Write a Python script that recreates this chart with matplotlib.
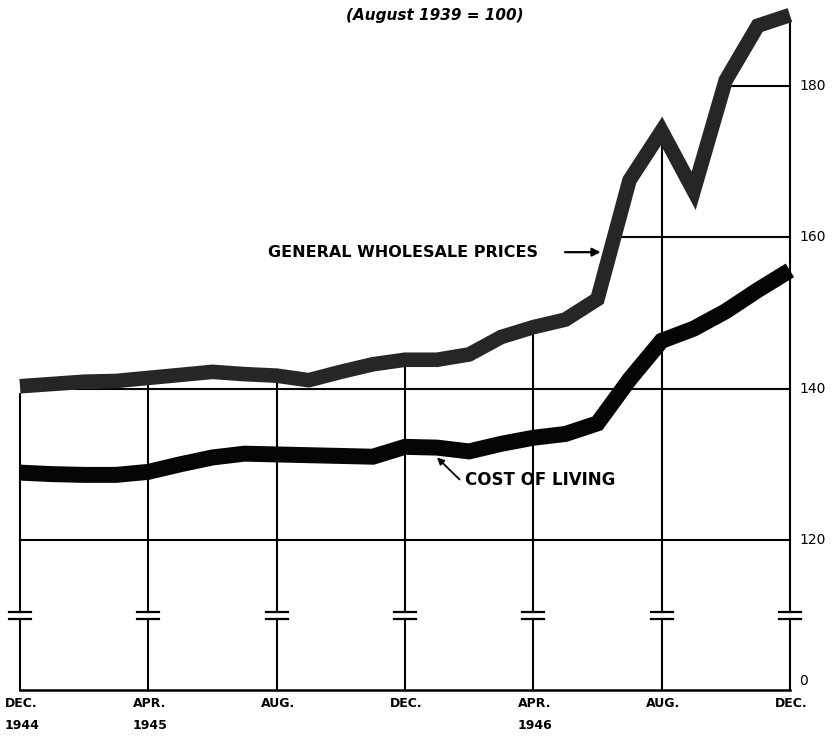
import matplotlib
matplotlib.use("Agg")
import matplotlib.pyplot as plt
from matplotlib.patches import Polygon

# ---- data (monthly, Dec 1944 .. Dec 1946; August 1939 = 100) ----
months = list(range(25))
wholesale = [140.3, 140.6, 140.9, 141.0, 141.4, 141.8, 142.2, 141.9, 141.7,
             141.1, 142.2, 143.2, 143.8, 143.8, 144.5, 146.8, 148.1, 149.1,
             151.8, 167.5, 174.0, 166.1, 180.7, 187.9, 189.3]
cost_of_living = [128.9, 128.7, 128.6, 128.6, 129.0, 130.0, 130.9, 131.4, 131.3,
                  131.2, 131.1, 131.0, 132.3, 132.2, 131.7, 132.7, 133.5, 134.0,
                  135.4, 141.2, 146.3, 147.9, 150.2, 153.0, 155.6]
tick_months = [0, 4, 8, 12, 16, 20, 24]
tick_labels = ["DEC.\n1944", "APR.\n1945", "AUG.", "DEC.", "APR.\n1946", "AUG.", "DEC."]
y_ticks = [120, 140, 160, 180]
y_tick_labels = ["120", "140", "160", "180"]
zero_label = "0"
title = "(August 1939 = 100)"
label_wholesale = "GENERAL WHOLESALE PRICES"
label_cost = "COST OF LIVING"

# ---- layout constants ----
BASE = 100.2          # where the broken axis shows "0"
BREAK_LO, BREAK_HI = 109.6, 110.5
TOP = 192.0

fig = plt.figure(figsize=(8.39, 7.36), dpi=100)
ax = fig.add_axes([0, 0, 1, 1])
ax.set_xlim(-0.623, 25.53)
ax.set_ylim(94.13, 191.29)
ax.axis("off")

# clip region: everything below the wholesale curve
off = 0.9
poly_pts = [(-1, wholesale[0] - off)] + [(m, w - off) for m, w in zip(months, wholesale)] \
    + [(26, wholesale[-1] - off), (26, 80), (-1, 80)]
clip = Polygon(poly_pts, closed=True, transform=ax.transData)

grid_kw = dict(color="black", lw=1.5, zorder=1)

# horizontal grid lines
for yv in y_ticks:
    ln, = ax.plot([months[0], months[-1]], [yv, yv], **grid_kw)
    ln.set_clip_path(clip)

# vertical grid lines with axis-break marks
for m in tick_months:
    ln, = ax.plot([m, m], [BREAK_HI, TOP], **grid_kw)
    ln.set_clip_path(clip)
    ax.plot([m, m], [BASE, BREAK_LO], **grid_kw)
    for yb in (BREAK_LO, BREAK_HI):
        ax.plot([m - 0.34, m + 0.34], [yb, yb], color="black", lw=1.6, zorder=1)

# baseline
ax.plot([months[0], months[-1]], [BASE, BASE], color="black", lw=1.8, zorder=1)

# series
ax.plot(months, wholesale, color="#262626", lw=10.5, solid_joinstyle="miter",
        solid_capstyle="butt", zorder=3)
ax.plot(months, cost_of_living, color="#050505", lw=11.5, solid_joinstyle="miter",
        solid_capstyle="butt", zorder=4)

# right-hand tick labels
for yv, lab in zip(y_ticks, y_tick_labels):
    ax.text(24.3, yv, lab, ha="left", va="center", fontsize=10,
            family="DejaVu Sans", color="black")
ax.text(24.3, BASE + 1.2, zero_label, ha="left", va="center", fontsize=10,
        family="DejaVu Sans", color="black")

# bottom labels
for m, lab in zip(tick_months, tick_labels):
    ax.text(m + 0.05, 99.3, lab, ha="center", va="top", fontsize=9,
            fontweight="bold", family="DejaVu Sans", linespacing=1.95,
            multialignment="center")

# title
ax.text(12.94, 189.3, title, ha="center", va="center", fontsize=11,
        fontweight="bold", style="italic", family="DejaVu Sans")

# annotations
ax.text(7.73, 158.0, label_wholesale, ha="left", va="center", fontsize=11.5,
        fontweight="bold", family="DejaVu Sans")
ax.annotate("", xy=(18.1, 158.0), xytext=(16.99, 158.0),
            arrowprops=dict(arrowstyle="-|>", color="black", lw=1.6,
                            mutation_scale=12, shrinkA=0, shrinkB=0), zorder=5)

ax.text(13.87, 127.9, label_cost, ha="left", va="center", fontsize=12,
        fontweight="bold", family="DejaVu Sans")
ax.annotate("", xy=(13.0, 130.9), xytext=(13.7, 128.0),
            arrowprops=dict(arrowstyle="-|>", color="black", lw=1.3,
                            mutation_scale=10, shrinkA=0, shrinkB=0), zorder=5)

fig.savefig("out.png", dpi=100, facecolor="white")
